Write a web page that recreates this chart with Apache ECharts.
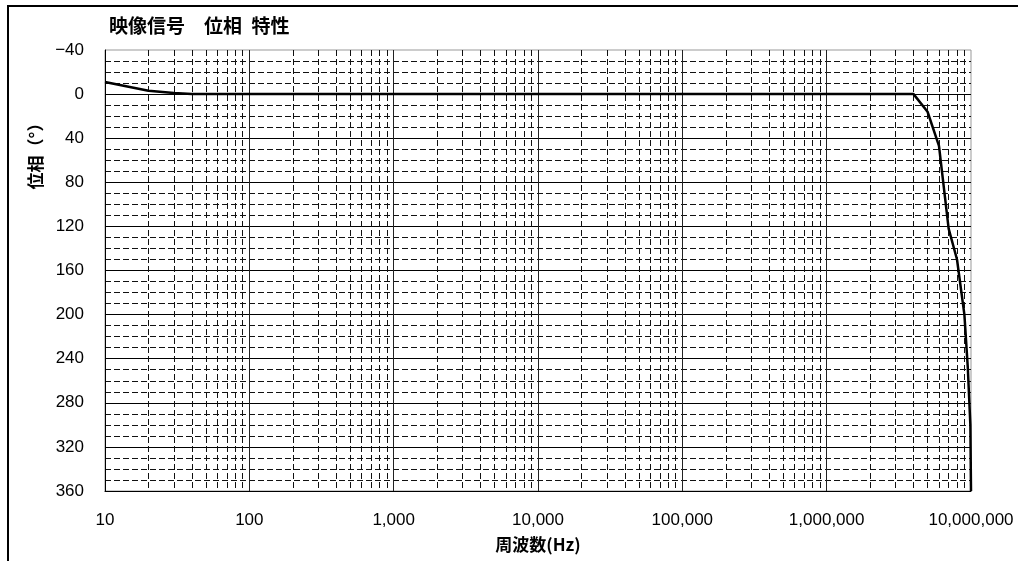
<!DOCTYPE html>
<html>
<head>
<meta charset="utf-8">
<script src="https://cdn.jsdelivr.net/npm/echarts@6/dist/echarts.min.js"></script>
<style>html,body{margin:0;padding:0;background:#fff;}#c{width:1018px;height:561px;}</style>
</head>
<body>
<div id="c"></div>
<script>
// ---- data ----
const freqHz = [10, 20, 30, 40, 100, 1000, 10000, 100000, 1000000, 4000000, 5000000, 6000000, 7000000, 8000000, 9000000, 9500000, 9900000, 10000000];
const phaseDeg = [-11, -3, -1, 0, 0, 0, 0, 0, 0, 0, 16, 47, 122, 150, 200, 248, 300, 360];
const xTickValues = [10, 100, 1000, 10000, 100000, 1000000, 10000000];
const yTickValues = [-40, 0, 40, 80, 120, 160, 200, 240, 280, 320, 360];
const titleText = '映像信号\u3000位相\u2002特性';
const xName = '周波数(Hz)';
const yName = '位相（°）';

// minor (2..9 per decade) grid positions on the log axis
const minorX = [];
for (let i = 0; i < xTickValues.length - 1; i++) {
  for (let k = 2; k <= 9; k++) minorX.push({ xAxis: xTickValues[i] * k });
}

const numFont = "'Liberation Sans', Arial, sans-serif";
const cjkFont = "'Noto Sans CJK JP', sans-serif";

const chart = echarts.init(document.getElementById('c'), null, { renderer: 'canvas' });
chart.setOption({
  backgroundColor: '#fff',
  animation: false,
  title: {
    text: titleText, left: 109, top: 16, padding: 0,
    textStyle: { fontFamily: cjkFont, fontSize: 19, fontWeight: 'bold', color: '#000' }
  },
  graphic: [
    { type: 'rect', shape: { x: 8, y: 6, width: 1200, height: 800 }, style: { fill: 'none', stroke: '#000', lineWidth: 2 }, silent: true },
    { type: 'text', x: 36, y: 152, rotation: Math.PI / 2,
      style: { text: yName, fontFamily: cjkFont, fontSize: 17, fontWeight: 'bold', fill: '#000', align: 'center', verticalAlign: 'middle' } }
  ],
  grid: { left: 105, right: 47, top: 50, bottom: 70, show: true, borderColor: '#999', borderWidth: 1 },
  xAxis: {
    type: 'log', logBase: 10, min: xTickValues[0], max: xTickValues[xTickValues.length - 1],
    splitNumber: 6,
    name: xName, nameLocation: 'middle', nameGap: 45,
    nameTextStyle: { fontFamily: cjkFont, fontSize: 17, fontWeight: 'bold', color: '#000' },
    axisLine: { show: true, onZero: false, lineStyle: { color: '#000', width: 1 } },
    axisTick: { show: false },
    axisLabel: {
      margin: 21, fontFamily: numFont, fontSize: 17, color: '#000',
      formatter: v => Math.round(v).toLocaleString('en-US')
    },
    splitLine: { show: true, showMinLine: false, showMaxLine: false, lineStyle: { color: '#222', width: 1 } }
  },
  yAxis: {
    type: 'value', inverse: true, min: -40, max: 360, interval: 40,
    axisLine: { show: true, lineStyle: { color: '#000', width: 1 } },
    axisTick: { show: false },
    axisLabel: {
      margin: 21, fontFamily: numFont, fontSize: 17, color: '#000',
      formatter: v => v < 0 ? '\u2212' + (-v) : String(v)
    },
    splitLine: { show: true, showMinLine: false, showMaxLine: false, lineStyle: { color: '#000', width: 1 } },
    minorTick: { show: false, splitNumber: 4 },
    minorSplitLine: { show: true, lineStyle: { color: '#111', width: 1, type: [6, 3] } }
  },
  series: [{
    type: 'line',
    data: freqHz.map((f, i) => [f, phaseDeg[i]]),
    showSymbol: false, symbol: 'none',
    lineStyle: { color: '#000', width: 2.5 },
    z: 5,
    markLine: {
      silent: true, symbol: 'none', animation: false,
      label: { show: false },
      lineStyle: { color: '#111', width: 1, type: [6, 3] },
      data: minorX
    }
  }]
});
</script>
</body>
</html>
